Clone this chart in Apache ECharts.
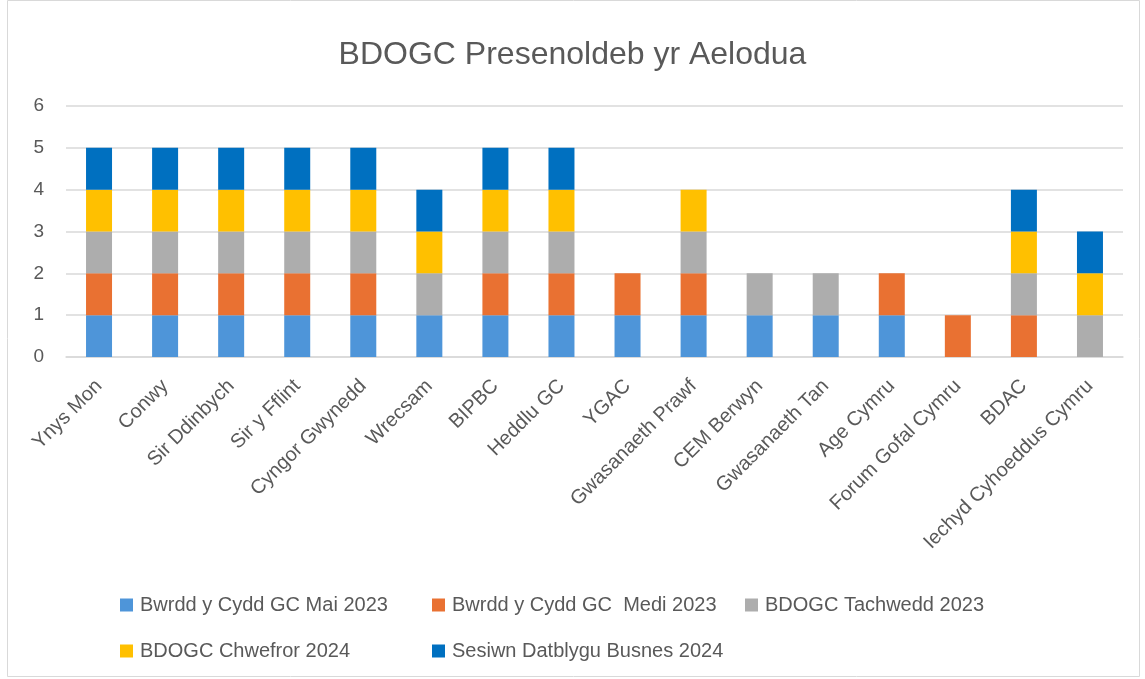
<!DOCTYPE html>
<html>
<head>
<meta charset="utf-8">
<script src="https://cdn.jsdelivr.net/npm/echarts@6/dist/echarts.min.js"></script>
<style>
  html, body { margin: 0; padding: 0; background: #fff; }
  #chart { width: 1145px; height: 679px; }
</style>
</head>
<body>
<div id="chart"></div>
<script>
const categories = ['Ynys Mon', 'Conwy', 'Sir Ddinbych', 'Sir y Fflint', 'Cyngor Gwynedd', 'Wrecsam', 'BIPBC', 'Heddlu GC', 'YGAC', 'Gwasanaeth Prawf', 'CEM Berwyn', 'Gwasanaeth Tan', 'Age Cymru', 'Forum Gofal Cymru', 'BDAC', 'Iechyd Cyhoeddus Cymru'];
const seriesNames = ['Bwrdd y Cydd GC Mai 2023', 'Bwrdd y Cydd GC  Medi 2023', 'BDOGC Tachwedd 2023', 'BDOGC Chwefror 2024', 'Sesiwn Datblygu Busnes 2024'];
const mai2023 =      [1, 1, 1, 1, 1, 1, 1, 1, 1, 1, 1, 1, 1, 0, 0, 0];
const medi2023 =     [1, 1, 1, 1, 1, 0, 1, 1, 1, 1, 0, 0, 1, 1, 1, 0];
const tachwedd2023 = [1, 1, 1, 1, 1, 1, 1, 1, 0, 1, 1, 1, 0, 0, 1, 1];
const chwefror2024 = [1, 1, 1, 1, 1, 1, 1, 1, 0, 1, 0, 0, 0, 0, 1, 1];
const sesiwn2024 =   [1, 1, 1, 1, 1, 1, 1, 1, 0, 0, 0, 0, 0, 0, 1, 1];
const yTicks = [0, 1, 2, 3, 4, 5, 6];

const colors = ['#4E95D9', '#E97132', '#ADADAD', '#FFC000', '#0070C0'];
const allData = [mai2023, medi2023, tachwedd2023, chwefror2024, sesiwn2024];

// legend slots: [left, top] for each series
const legendSlots = [[120, 595], [432, 595], [745, 595], [120, 641], [432, 641]];

const chart = echarts.init(document.getElementById('chart'));

const option = {
    animation: false,
    color: colors,
    title: {
        text: 'BDOGC Presenoldeb yr Aelodua',
        left: 'center',
        top: 34,
        textStyle: {
            color: '#595959',
            fontSize: 32,
            fontWeight: 'normal',
            fontFamily: 'Liberation Sans, sans-serif'
        }
    },
    graphic: [{
        type: 'rect',
        shape: { x: 7.5, y: 0.5, width: 1132, height: 676 },
        style: { fill: 'none', stroke: '#d9d9d9', lineWidth: 1 },
        silent: true
    }],
    legend: seriesNames.map(function(name, i) {
        return {
            data: [name],
            left: legendSlots[i][0],
            top: legendSlots[i][1],
            padding: 0,
            itemWidth: 13,
            itemHeight: 13,
            itemGap: 0,
            icon: 'rect',
            textStyle: {
                color: '#595959',
                fontSize: 20,
                padding: [0, 0, 0, 2],
                fontFamily: 'Liberation Sans, sans-serif'
            }
        };
    }),
    grid: {
        left: 66,
        right: 22,
        top: 106,
        bottom: 322,
        containLabel: false
    },
    xAxis: {
        type: 'category',
        data: categories,
        axisLine: { show: true, lineStyle: { color: '#d9d9d9', width: 1.5 } },
        axisTick: { show: false },
        axisLabel: {
            rotate: 45,
            interval: 0,
            margin: 26,
            color: '#595959',
            fontSize: 20,
            fontFamily: 'Liberation Sans, sans-serif'
        }
    },
    yAxis: {
        type: 'value',
        min: yTicks[0],
        max: yTicks[yTicks.length - 1],
        interval: 1,
        axisLine: { show: false },
        axisTick: { show: false },
        splitLine: { lineStyle: { color: '#d9d9d9', width: 1.5 } },
        axisLabel: {
            margin: 22,
            color: '#595959',
            fontSize: 19,
            fontFamily: 'Liberation Sans, sans-serif'
        }
    },
    series: seriesNames.map(function(name, i) {
        return {
            name: name,
            type: 'bar',
            stack: 'total',
            barWidth: 26,
            data: allData[i],
            itemStyle: { color: colors[i] }
        };
    })
};

chart.setOption(option);
</script>
</body>
</html>
